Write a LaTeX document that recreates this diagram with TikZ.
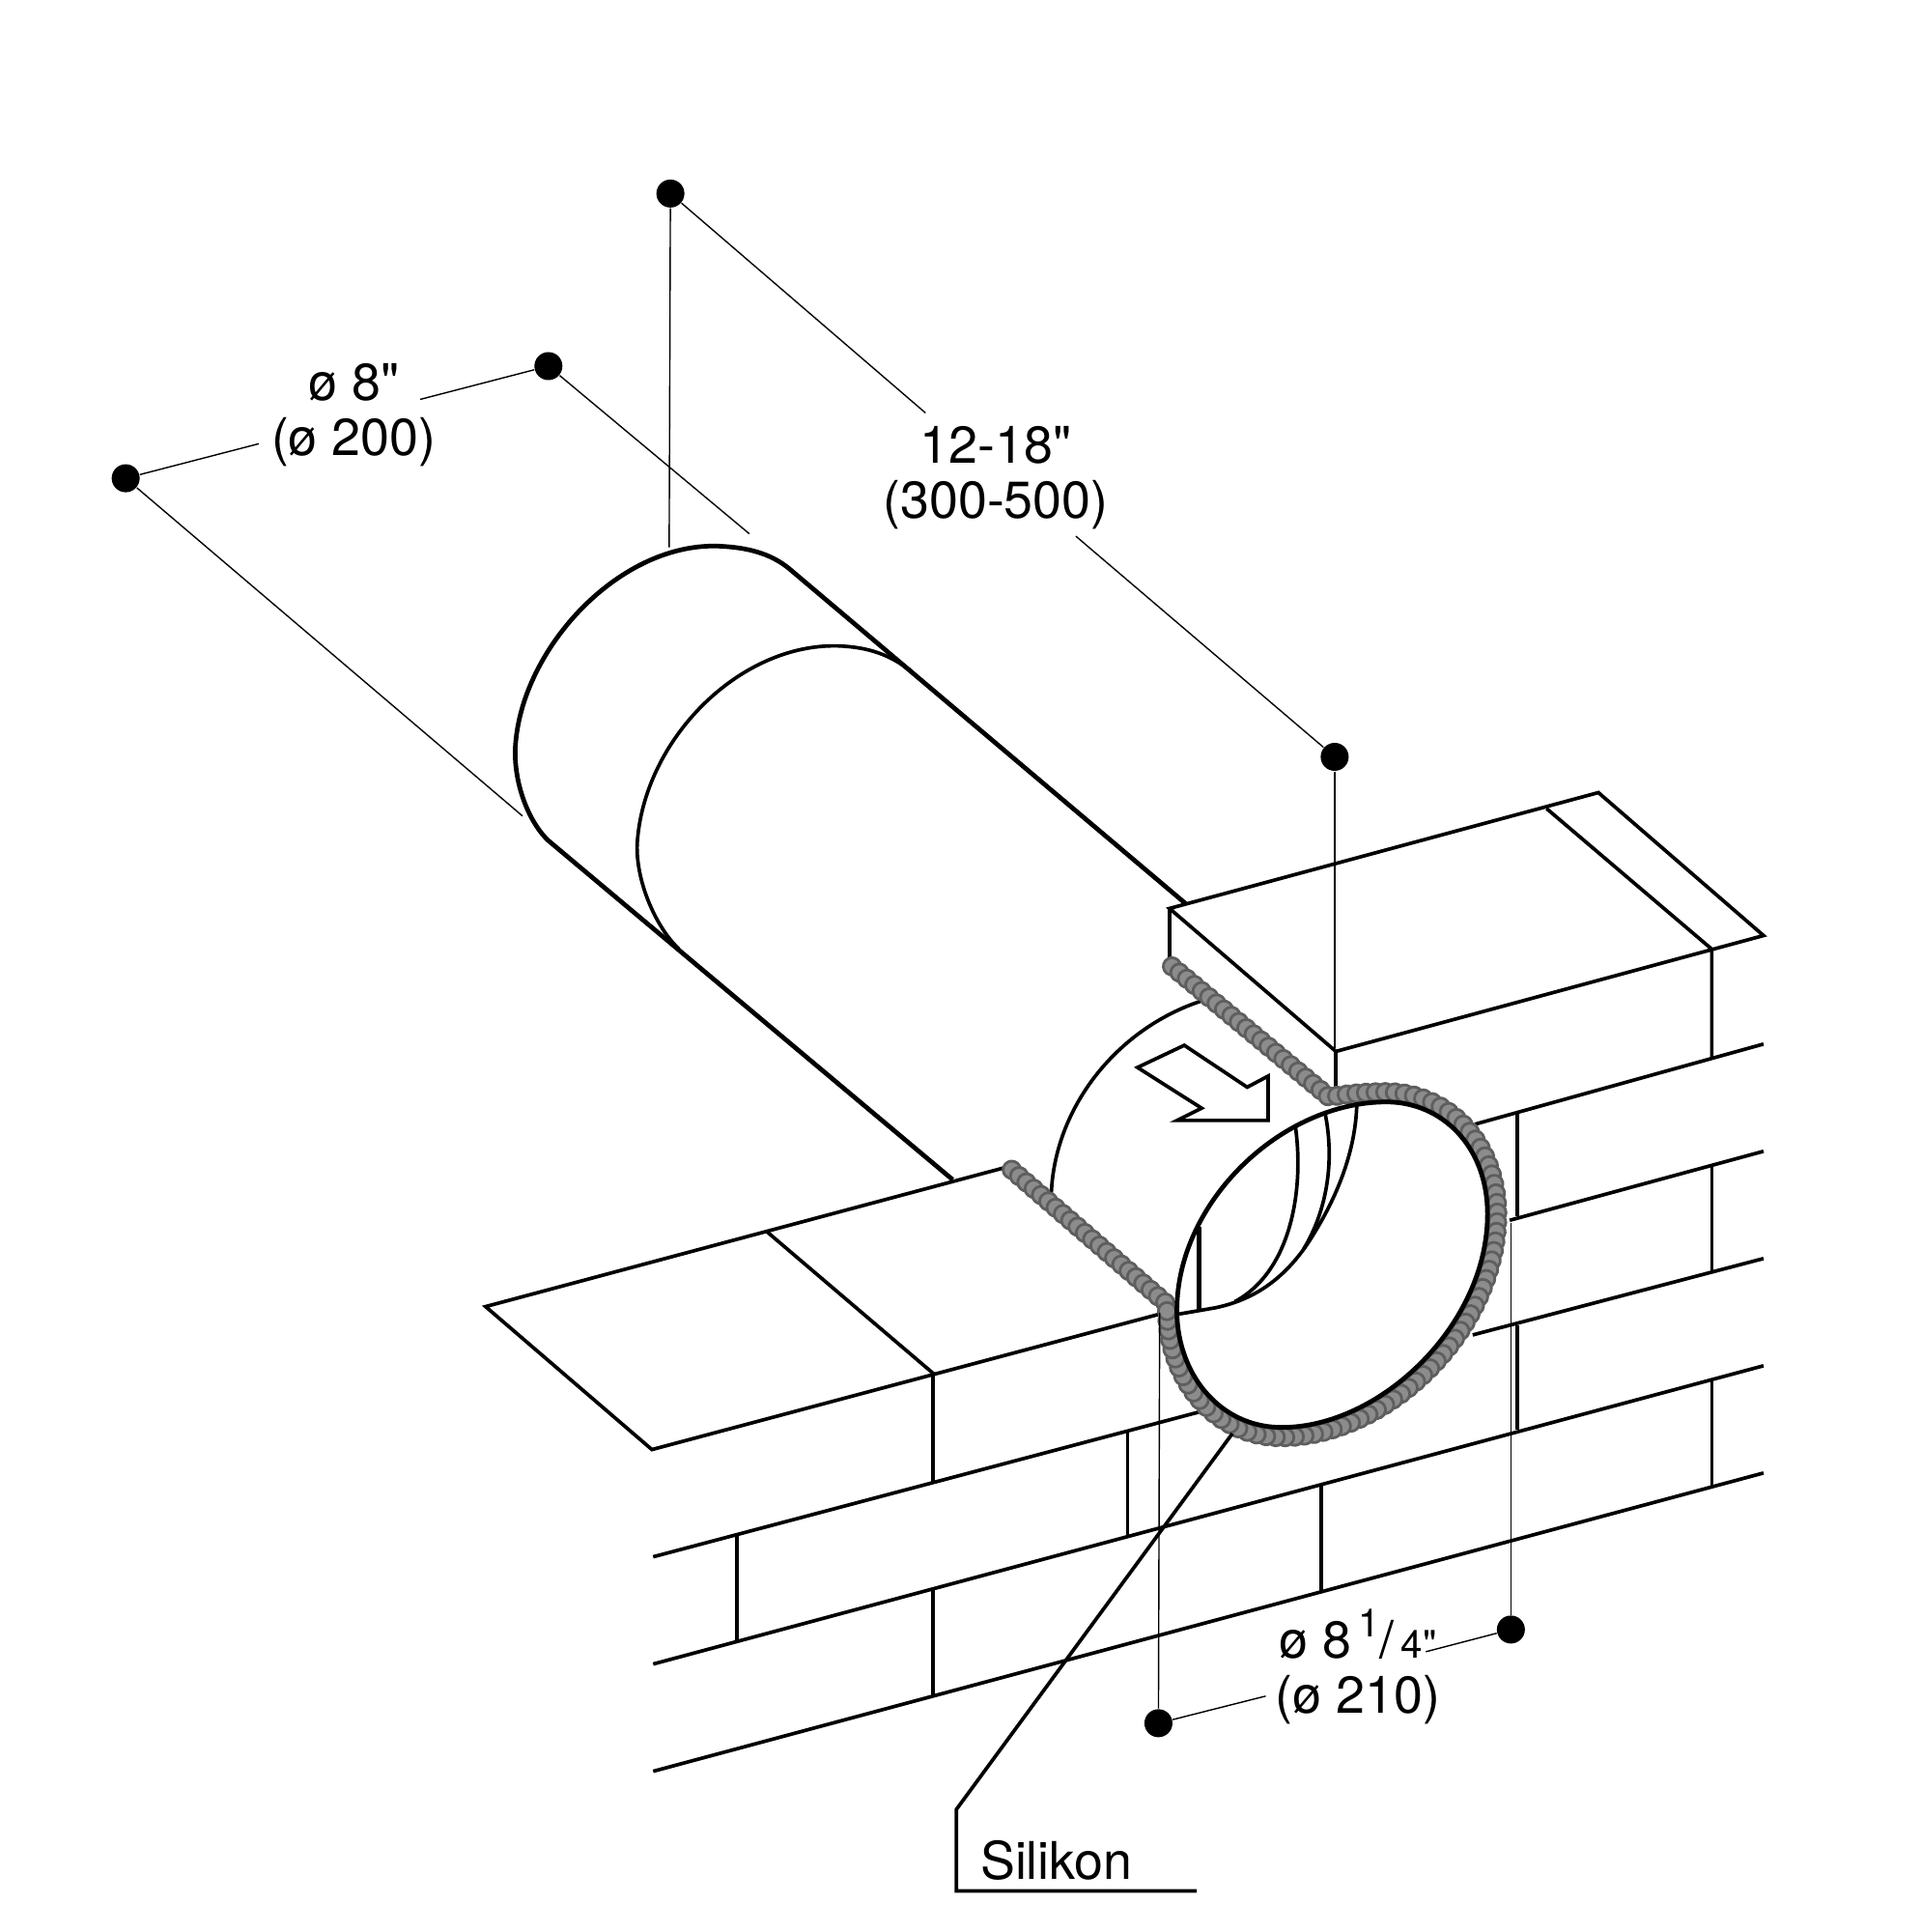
\documentclass[tikz,border=0pt]{standalone}
\usepackage{fontspec}
\setmainfont[Ligatures=TeXOff]{TeX Gyre Heros}
\usetikzlibrary{decorations.markings}
\definecolor{beadfill}{HTML}{8C8C8C}
\definecolor{beadedge}{HTML}{5E5E5E}
\tikzset{
	wandlinie/.style={line width=1.05pt,black},
	dicklinie/.style={line width=1.35pt,black},
	masslinie/.style={line width=0.4pt,black},
	masspunkt/.style={circle,fill=black,inner sep=0pt,minimum size=0.29cm},
	masstext/.style={align=center,inner sep=0pt,font=\fontsize{15.3}{16.2}\selectfont},
	dichtung/.style={decorate,decoration={markings,mark=between positions 0 and 1 step 0.1cm with {\filldraw[fill=beadfill,draw=beadedge,line width=0.8pt] (0,0) circle (0.09cm);}}}
}
\begin{document}
\begin{tikzpicture}[x=0.01276cm,y=-0.01276cm]
		\useasboundingbox (0,0) rectangle (1558.7,1567.4);

		% Rohr
		\draw[dicklinie] (773,957) -- (445,682) .. controls (432,670) and (418,642) .. (418,610) .. controls (420,530) and (500,441) .. (582,443) .. controls (607,444) and (625,449) .. (640,461) -- (962,733);
		\draw[wandlinie] (551,770) .. controls (532,752) and (516,715) .. (517,685) .. controls (522,600) and (600,522) .. (680,524) .. controls (705,525) and (722,531) .. (740,545);
		\draw[wandlinie] (853,970) .. controls (855,900) and (905,835) .. (975,812);

		% Obere Platte
		\draw[wandlinie] (949,737) -- (1297,643) -- (1431,759) -- (1084,853) -- cycle;
		\draw[wandlinie] (949,737) -- (949,782);
		\draw[wandlinie] (1084,853) -- (1084,887);
		\draw[wandlinie] (1255,656) -- (1389,770) -- (1389,858);

		% Untere Platte
		\draw[wandlinie] (820,946) -- (394,1060) -- (529,1176) -- (945,1065);
		\draw[wandlinie] (622,999) -- (757,1114) -- (757,1202);

		% Mauerwerk
		\draw[wandlinie] (1197,912) -- (1431,847);
		\draw[wandlinie] (1225,990) -- (1431,934);
		\draw[wandlinie] (1195,1083) -- (1431,1021);
		\draw[wandlinie] (530,1263) -- (975,1145);
		\draw[wandlinie] (530,1350) -- (1431,1108);
		\draw[wandlinie] (530,1437) -- (1431,1195);
		\foreach \sx/\oy/\uy in {1231/903/987,1389/945/1033,1231/1075/1160,915/1160/1247,1389/1120/1207,1072/1205/1292,598/1245/1331,757/1289/1376}
			\draw[wandlinie] (\sx,\oy) -- (\sx,\uy);

		% Pfeil
		\draw[wandlinie] (923,866) -- (961,848) -- (1012,882) -- (1029,873) -- (1029,909) -- (955,909) -- (975,899) -- cycle;

		% Innere Kanten
		\draw[wandlinie] (1051,913) .. controls (1058,960) and (1050,1030) .. (1002,1056);
		\draw[wandlinie] (1075,902) .. controls (1084,945) and (1075,985) .. (1058,1013);
		\draw[wandlinie] (957,1066) -- (986,1061) .. controls (1015,1055) and (1040,1040) .. (1061,1009) .. controls (1080,980) and (1100,940) .. (1101,895);
		\draw[dicklinie] (973,995) -- (973,1063);

		% Silikon
		\path[dichtung] (951,784) -- (1082,893);
		\path[dichtung] (821,949) -- (947,1058);
		\path[dichtung] (1085,889) .. controls (1098,887) and (1112,886) .. (1125,886) .. controls (1175,886) and (1215,927) .. (1215,985) .. controls (1215,1080) and (1125,1166) .. (1040,1166) .. controls (985,1166) and (947,1118) .. (947,1063);

		% Oeffnung
		\draw[dicklinie] (1125,894) .. controls (1170,894) and (1207,930) .. (1207,985) .. controls (1207,1075) and (1120,1158) .. (1040,1158) .. controls (990,1158) and (955,1115) .. (955,1063) .. controls (955,975) and (1040,894) .. (1125,894) -- cycle;

		\coordinate (ringpunkt) at (1000,1163);
		\coordinate (knick) at (776,1468);
		\coordinate (ecke) at (776,1534);
		\coordinate (ende) at (971,1534);
		\draw[wandlinie] (ringpunkt) -- (knick) -- (ecke) -- (ende);
		\node[masstext,anchor=base west] (silikon) at (795,1525) {Silikon};

		% Masspunkte
		\node[masspunkt] (punktA) at (544,157) {};
		\node[masspunkt] (punktB) at (445,297) {};
		\node[masspunkt] (punktC) at (102,388) {};
		\node[masspunkt] (punktD) at (1083,614) {};
		\node[masspunkt] (punktE) at (1226,1322) {};
		\node[masspunkt] (punktF) at (940,1398) {};

		% Masstexte
		\node[masstext] (laenge) at (808,387.5) {12-18"\\(300-500)};
		\node[masstext] (rohrmass) at (287,337) {ø 8"\\(ø 200)};
		\node[masstext] (lochmass) at (1102,1352) {ø 8\raisebox{0.42em}{\fontsize{11.5}{12}\selectfont\,1}/{\fontsize{11.5}{12}\selectfont\,4"}\\(ø 210)};

		% Masslinien
		\coordinate (a1) at (543,444);
		\coordinate (a2) at (751,335);
		\coordinate (d1) at (873,435);
		\coordinate (d2) at (1083,850);
		\coordinate (b1) at (608,433);
		\coordinate (b2) at (341,324);
		\coordinate (c1) at (424,662);
		\coordinate (c2) at (210,360);
		\coordinate (e1) at (1226,992);
		\coordinate (e2) at (1157,1340);
		\coordinate (f1) at (941,1065);
		\coordinate (f2) at (1027,1376);
		\foreach \von/\bis in {punktA/a1,punktA/a2,punktD/d1,punktD/d2,punktB/b1,punktB/b2,punktC/c1,punktC/c2,punktE/e1,punktE/e2,punktF/f1,punktF/f2}
			\draw[masslinie] (\von) -- (\bis);

\end{tikzpicture}
\end{document}
